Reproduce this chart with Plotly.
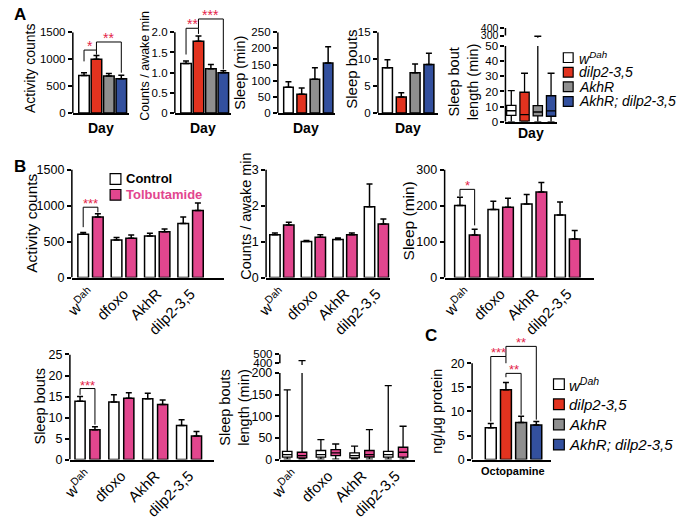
import plotly.graph_objects as go

W, H = 683, 525
FONT = "Liberation Sans, Arial, Helvetica, sans-serif"
BLACK = "#000000"
STAR = "#e3234a"
PINK = "#e2468e"

# ---------------- Panel A data ----------------
geno_A = ["<i>w<sup>Dah</sup></i>", "<i>dilp2-3,5</i>", "<i>AkhR</i>", "<i>AkhR; dilp2-3,5</i>"]
col_A = ["#ffffff", "#e2331f", "#8f8f8f", "#33509e"]
A_pos = [0, 1, 2, 3]
A_act = [700, 1000, 690, 640]
A_act_err = [50, 70, 45, 65]
A_cnt = [1.23, 1.78, 1.10, 1.00]
A_cnt_err = [0.06, 0.13, 0.10, 0.05]
A_slp = [80, 58, 105, 155]
A_slp_err = [17, 20, 35, 50]
A_bts = [8.4, 3.0, 7.5, 9.0]
A_bts_err = [1.5, 0.8, 1.6, 2.1]
A_len_lo = [0, 0, 0, 0]
A_len_q1 = [4.3, 0.5, 3.9, 3.7]
A_len_med = [7.3, 4.7, 6.5, 7.2]
A_len_q3 = [10.8, 19.5, 10.7, 17.2]
A_len_hi = [20.5, 32, 290, 32]

# ---------------- Panel B data ----------------
groups_B = ["w<sup>Dah</sup>", "dfoxo", "AkhR", "dilp2-3,5"]
B_pos = [0, 1, 2, 3]
B_act_ctrl = [600, 523, 577, 750]
B_act_ctrl_err = [27, 32, 37, 91]
B_act_tol = [841, 545, 636, 932]
B_act_tol_err = [45, 46, 37, 104]
B_cnt_ctrl = [1.19, 1.00, 1.06, 1.97]
B_cnt_ctrl_err = [0.05, 0.03, 0.04, 0.63]
B_cnt_tol = [1.46, 1.12, 1.19, 1.49]
B_cnt_tol_err = [0.08, 0.07, 0.05, 0.14]
B_slp_ctrl = [200, 189, 204, 174]
B_slp_ctrl_err = [23, 23, 27, 36]
B_slp_tol = [118, 195, 238, 107]
B_slp_tol_err = [16, 25, 26, 24]
B_bts_ctrl = [13.9, 13.7, 14.5, 8.1]
B_bts_ctrl_err = [1.1, 1.7, 1.3, 1.4]
B_bts_tol = [7.1, 14.6, 13.1, 5.6]
B_bts_tol_err = [0.7, 1.3, 1.1, 1.1]
B_len_ctrl_lo = [1, 1, 1, 1]
B_len_ctrl_q1 = [5.5, 5.5, 4, 5.5]
B_len_ctrl_med = [11.5, 11.5, 9, 11.5]
B_len_ctrl_q3 = [19, 21, 15.5, 19]
B_len_ctrl_hi = [161, 46, 31, 171]
B_len_tol_lo = [1, 1, 1, 1]
B_len_tol_q1 = [4, 9, 6, 5.5]
B_len_tol_med = [9, 15.5, 11.5, 17]
B_len_tol_q3 = [17, 23, 21, 28.5]
B_len_tol_hi = [430, 36, 69, 77]

# ---------------- Panel C data ----------------
C_vals = [6.6, 14.5, 7.7, 7.2]
C_err = [0.9, 1.5, 1.3, 0.7]

LAYOUT = {}
SHAPES = []
ANN = []
TRACES = []
_n = [0]


def cal(va, pa, vb, pb):
    return lambda v: pa + (v - va) * (pb - pa) / (vb - va)


def add_axes(xl, xr, xrange, pix, yrange, yticks, yline, tickfs,
             yticktext=None, show_x=True, xtickvals=None, xticktext=None, xtickfs=15):
    _n[0] += 1
    s = "" if _n[0] == 1 else str(_n[0])
    xid, yid = "x" + s, "y" + s
    xa = dict(domain=[xl / W, xr / W], range=xrange, anchor=yid, showline=True,
              linecolor=BLACK, linewidth=1.5, ticks="", showgrid=False,
              zeroline=False, fixedrange=True)
    if xtickvals is not None:
        xa.update(tickvals=xtickvals, ticktext=xticktext, tickangle=-45,
                  tickfont=dict(size=xtickfs, color=BLACK))
    else:
        xa.update(showticklabels=False)
    if not show_x:
        xa["visible"] = False
    LAYOUT["xaxis" + s] = xa
    ya = dict(domain=[1 - pix(yrange[0]) / H, 1 - pix(yrange[1]) / H], range=yrange,
              anchor=xid, showline=False, ticks="outside", ticklen=4, tickwidth=1.5,
              tickcolor=BLACK, tickvals=yticks, tickfont=dict(size=tickfs, color=BLACK),
              showgrid=False, zeroline=False, fixedrange=True)
    if yticktext is not None:
        ya["ticktext"] = yticktext
    LAYOUT["yaxis" + s] = ya
    SHAPES.append(dict(type="line", xref=xid + " domain", yref=yid, x0=0, x1=0,
                       y0=yline[0], y1=yline[1], line=dict(color=BLACK, width=1.5)))
    return xid, yid


def bars(xid, yid, xs, ys, errs, colors, width):
    TRACES.append(go.Bar(
        x=xs, y=ys, width=width,
        marker=dict(color=colors, line=dict(color=BLACK, width=1.5)),
        error_y=dict(type="data", array=errs, arrayminus=[0] * len(errs), symmetric=False,
                     color=BLACK, thickness=1.5, width=3),
        xaxis=xid, yaxis=yid, showlegend=False, hoverinfo="skip"))


def boxes(xid, yid, xs, lo, q1, med, q3, hi, color, width):
    TRACES.append(go.Box(
        x=xs, lowerfence=lo, q1=q1, median=med, q3=q3, upperfence=hi,
        width=width, whiskerwidth=0.75, fillcolor=color, boxpoints=False,
        line=dict(color=BLACK, width=1.3), xaxis=xid, yaxis=yid,
        showlegend=False, hoverinfo="skip"))


def bracket(xid, yid, xa, xb, top, la, lb, text, fs=13):
    SHAPES.append(dict(type="path", xref=xid, yref=yid,
                       path=f"M {xa},{la} L {xa},{top} L {xb},{top} L {xb},{lb}",
                       line=dict(color=BLACK, width=1)))
    ANN.append(dict(xref=xid, yref=yid, x=(xa + xb) / 2, y=top, text=text,
                    showarrow=False, yanchor="bottom", yshift=-6,
                    font=dict(color=STAR, size=fs)))


def text(px, py, t, size, bold=False, angle=0, color=BLACK, anchor="center"):
    ANN.append(dict(xref="paper", yref="paper", x=px / W, y=1 - py / H,
                    text=(f"<b>{t}</b>" if bold else t), showarrow=False,
                    textangle=angle, xanchor=anchor, yanchor="middle",
                    font=dict(size=size, color=color)))


def square(px, py, size, color):
    SHAPES.append(dict(type="rect", xref="paper", yref="paper",
                       x0=px / W, x1=(px + size) / W,
                       y0=1 - (py - size / 2) / H, y1=1 - (py + size / 2) / H,
                       fillcolor=color, line=dict(color=BLACK, width=1.2)))


# ================= Panel A =================
x, y = add_axes(61, 118, [-0.9, 3.6], cal(0, 109, 1500, 26), [0, 1500],
                [0, 500, 1000, 1500], (0, 1500), 11.5)
bars(x, y, A_pos, A_act, A_act_err, col_A, 0.85)
bracket(x, y, 0, 1, 1170, 960, 1085, "*", 14)
bracket(x, y, 1, 3, 1320, 1170, 750, "**", 14)

x, y = add_axes(165, 222, [-0.9, 3.6], cal(0, 109, 2.0, 26), [0, 2.45],
                [0, 0.5, 1.0, 1.5, 2.0], (0, 2.0), 11.5,
                yticktext=["0", "0.5", "1.0", "1.5", "2.0"])
bars(x, y, A_pos, A_cnt, A_cnt_err, col_A, 0.85)
bracket(x, y, 0, 1, 2.10, 1.45, 1.96, "**", 14)
bracket(x, y, 1, 3, 2.33, 2.10, 1.08, "***", 14)

x, y = add_axes(270, 328, [-0.8, 3.5], cal(0, 109, 250, 26), [0, 250],
                [0, 50, 100, 150, 200, 250], (0, 250), 11.5)
bars(x, y, A_pos, A_slp, A_slp_err, col_A, 0.72)

x, y = add_axes(372, 433, [-0.69, 3.64], cal(0, 109, 15, 26), [0, 15],
                [0, 5, 10, 15], (0, 15), 11.5)
bars(x, y, A_pos, A_bts, A_bts_err, col_A, 0.72)

x, y = add_axes(502, 555, [-0.44, 3.48], cal(0, 118, 50, 40), [0, 50],
                [0, 10, 20, 30, 40, 50], (0, 50), 11.5)
for i in range(4):
    boxes(x, y, [A_pos[i]], [A_len_lo[i]], [A_len_q1[i]], [A_len_med[i]],
          [A_len_q3[i]], [A_len_hi[i]], col_A[i], 0.7)
x, y = add_axes(502, 555, [-0.44, 3.48], cal(300, 29.3, 400, 21.7), [270, 400],
                [300, 400], (300, 400), 10.5, show_x=False)
for i in range(4):
    boxes(x, y, [A_pos[i]], [A_len_lo[i]], [A_len_q1[i]], [A_len_med[i]],
          [A_len_q3[i]], [A_len_hi[i]], col_A[i], 0.7)

# ================= Panel B =================
ctrl_x = [p - 0.22 for p in B_pos]
tol_x = [p + 0.22 for p in B_pos]

x, y = add_axes(60, 215, [-0.56, 4.0], cal(0, 278, 1500, 167), [0, 1500],
                [0, 500, 1000, 1500], (0, 1500), 12.5,
                xtickvals=B_pos, xticktext=groups_B)
bars(x, y, ctrl_x, B_act_ctrl, B_act_ctrl_err, "#ffffff", 0.32)
bars(x, y, tol_x, B_act_tol, B_act_tol_err, PINK, 0.32)
bracket(x, y, ctrl_x[0], tol_x[0], 977, 700, 905, "***")

x, y = add_axes(258, 384, [-0.5, 3.42], cal(0, 278, 3, 167), [0, 3],
                [0, 1, 2, 3], (0, 3), 12.5, xtickvals=B_pos, xticktext=groups_B)
bars(x, y, ctrl_x, B_cnt_ctrl, B_cnt_ctrl_err, "#ffffff", 0.33)
bars(x, y, tol_x, B_cnt_tol, B_cnt_tol_err, PINK, 0.33)

x, y = add_axes(440, 592, [-0.68, 3.79], cal(0, 278, 300, 167), [0, 300],
                [0, 100, 200, 300], (0, 300), 12.5, xtickvals=B_pos, xticktext=groups_B)
bars(x, y, ctrl_x, B_slp_ctrl, B_slp_ctrl_err, "#ffffff", 0.32)
bars(x, y, tol_x, B_slp_tol, B_slp_tol_err, PINK, 0.32)
bracket(x, y, ctrl_x[0], tol_x[0], 245, 226, 145, "*")

x, y = add_axes(58, 205, [-0.52, 3.74], cal(0, 465, 25, 357), [0, 25],
                [0, 5, 10, 15, 20, 25], (0, 25), 12.5, xtickvals=B_pos, xticktext=groups_B)
bars(x, y, ctrl_x, B_bts_ctrl, B_bts_ctrl_err, "#ffffff", 0.3)
bars(x, y, tol_x, B_bts_tol, B_bts_tol_err, PINK, 0.3)
bracket(x, y, ctrl_x[0], tol_x[0], 16.9, 15.4, 8.3, "***")

x, y = add_axes(272, 410, [-0.44, 3.58], cal(0, 465, 200, 376), [0, 200],
                [0, 50, 100, 150, 200], (0, 200), 12.5, xtickvals=B_pos, xticktext=groups_B)
boxes(x, y, ctrl_x, B_len_ctrl_lo, B_len_ctrl_q1, B_len_ctrl_med, B_len_ctrl_q3,
      B_len_ctrl_hi, "#ffffff", 0.28)
boxes(x, y, tol_x, B_len_tol_lo, B_len_tol_q1, B_len_tol_med, B_len_tol_q3,
      B_len_tol_hi, PINK, 0.28)
x, y = add_axes(272, 410, [-0.44, 3.58], cal(400, 366, 500, 356.7), [380, 500],
                [400, 500], (400, 500), 11.5, show_x=False)
boxes(x, y, ctrl_x, B_len_ctrl_lo, B_len_ctrl_q1, B_len_ctrl_med, B_len_ctrl_q3,
      B_len_ctrl_hi, "#ffffff", 0.28)
boxes(x, y, tol_x, B_len_tol_lo, B_len_tol_q1, B_len_tol_med, B_len_tol_q3,
      B_len_tol_hi, PINK, 0.28)

# ================= Panel C =================
x, y = add_axes(468, 548, [-1.23, 3.94], cal(0, 465, 20, 366), [0, 25],
                [0, 5, 10, 15, 20], (0, 20), 12.5)
bars(x, y, A_pos, C_vals, C_err, col_A, 0.72)
bracket(x, y, 0, 1, 21.4, 7.9, 20.0, "***")
bracket(x, y, 1, 3, 23.5, 21.4, 8.3, "**")
bracket(x, y, 1, 2, 17.9, 17.1, 9.3, "**")

# ================= Text =================
text(7.5, 8, "A", 17, bold=True)
text(7.5, 164, "B", 17, bold=True)
text(426, 337, "C", 17, bold=True)

text(18, 63, "Activity counts", 14, angle=-90)
text(135, 60, "Counts / awake min", 12.5, angle=-90)
text(232, 68, "Sleep (min)", 14.5, angle=-90)
text(345, 64, "Sleep bouts", 15, angle=-90)
text(460, 77, "Sleep bout<br>length (min)", 14.5, angle=-90)
text(18, 222, "Activity counts", 15.5, angle=-90)
text(238, 215, "Counts / awake min", 14.5, angle=-90)
text(403, 220, "Sleep (min)", 15.5, angle=-90)
text(28, 410, "Sleep bouts", 14.5, angle=-90)
text(225, 411, "Sleep bouts<br>length (min)", 14.5, angle=-90)
text(432, 415, "ng/\u03bcg protein", 14.5, angle=-90)

for cx, cy in [(89.5, 124), (193.5, 124), (299, 124), (402.5, 124), (528.5, 129)]:
    text(cx, cy, "Day", 14, bold=True)
text(510, 477, "Octopamine", 11, bold=True)

for i in range(4):
    square(561, 52 + 15 * i, 10, col_A[i])
    text(575, 52 + 15 * i, geno_A[i], 14, anchor="left")

square(99, 176.7, 11, "#ffffff")
text(113, 176.7, "Control", 13, bold=True, anchor="left")
square(99, 193, 11, PINK)
text(113, 193, "Tolbutamide", 13, bold=True, color=PINK, anchor="left")

for i in range(4):
    square(551, 387.5 + 20.7 * i, 11, col_A[i])
    text(565, 387.5 + 20.7 * i, geno_A[i], 15, anchor="left")

fig = go.Figure(data=TRACES)
fig.update_layout(
    width=W, height=H, margin=dict(l=0, r=0, t=0, b=0),
    paper_bgcolor="white", plot_bgcolor="rgba(0,0,0,0)",
    font=dict(family=FONT, color=BLACK),
    barmode="overlay", boxmode="overlay", showlegend=False,
    shapes=SHAPES, annotations=ANN, **LAYOUT)
fig.write_html("out.html", config={"displayModeBar": False},
               post_script="document.body.style.margin='0';document.body.style.padding='0';")
